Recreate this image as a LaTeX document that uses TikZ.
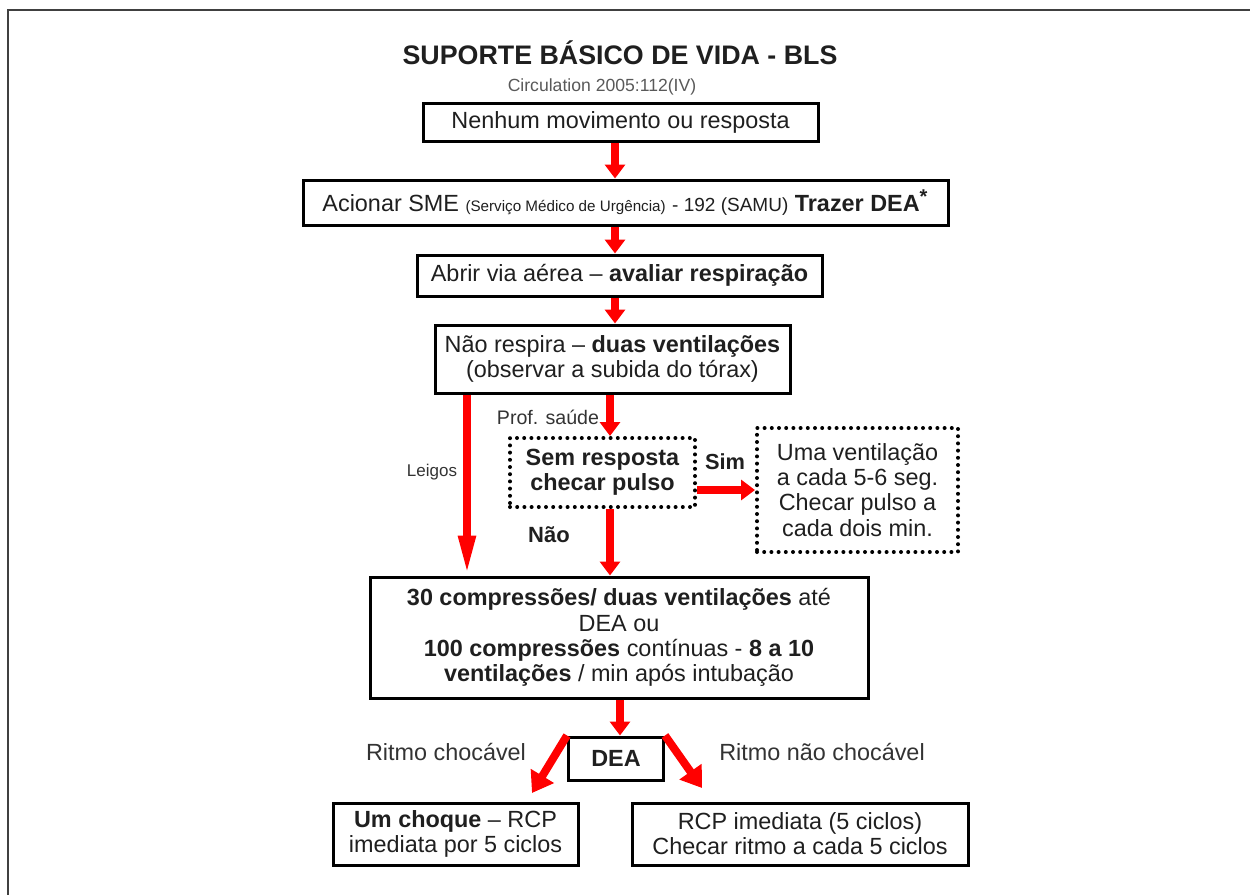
\documentclass[tikz,border=0pt]{standalone}
\usepackage{fontspec}
\setmainfont{Liberation Sans}
\usetikzlibrary{arrows.meta}

\begin{document}
\begin{tikzpicture}[x=0.5pt,y=-0.5pt]
	\tikzstyle{every node}+=[inner sep=0pt, text=black!88, font=\fontsize{11.7}{12.6}\selectfont]
	\tikzstyle{box}=[draw=black, line width=1.5pt, align=center]
	\tikzstyle{dotbox}=[draw=black, line width=2pt, dash pattern=on 0pt off 3.6pt, line cap=round, align=center]
	\tikzstyle{redarrow}=[draw=red, line width=4pt, -{Triangle[width=10pt,length=7pt]}]
	\tikzstyle{lbl}=[text=black!80]
	\useasboundingbox (0,0) rectangle (1250,895);
	\draw [black!75, line width=1pt] (8,895) -- (8,10) -- (1250,10);
	\node (title) at (620,53) {\fontsize{13.4}{15}\selectfont\bfseries SUPORTE BÁSICO DE VIDA - BLS};
	\node (cite) [text=black!65] at (602,87) {\fontsize{8.8}{10}\selectfont Circulation 2005:112(IV)};
	\node (b1) [box, minimum width=197.5pt, minimum height=19pt] at (620.5,122) {Nenhum movimento ou resposta};
	\node (b2) [box, minimum width=322.5pt, minimum height=22.5pt] at (625.5,202.5) {Acionar SME {\fontsize{7.6}{9}\selectfont(Serviço Médico de Urgência)} {\fontsize{9.5}{11}\selectfont - 192 (SAMU)} \textbf{Trazer DEA}\textsuperscript{\fontsize{10}{10}\selectfont\textbf{*}}};
	\node (b3) [box, minimum width=202.5pt, minimum height=20.5pt] at (619.5,275.5) {Abrir via aérea – \textbf{avaliar respiração}};
	\node (b4) [box, minimum width=177.5pt, minimum height=34pt] at (612.5,359) {Não respira – \textbf{duas ventilações}\\(observar a subida do tórax)};
	\node (b5) [dotbox, minimum width=92.5pt, minimum height=34.5pt] at (602.5,472.5) {\textbf{Sem resposta}\\\textbf{checar pulso}};
	\node (b6) [dotbox, minimum width=100.5pt, minimum height=62pt] at (857.5,490) {Uma ventilação\\a cada 5-6 seg.\\Checar pulso a\\cada dois min.};
	\node (b7) [box, minimum width=249pt, minimum height=60.5pt] at (619,637.5) {\textbf{30 compressões/ duas ventilações} até\\DEA ou\\\textbf{100 compressões} contínuas - \textbf{8 a 10}\\\textbf{ventilações} / min após intubação};
	\node (dea) [box, minimum width=47.5pt, minimum height=21.5pt] at (616,758.5) {\textbf{DEA}};
	\node (b8) [box, minimum width=122.5pt, minimum height=31pt] at (455.5,834) {\textbf{Um choque} – RCP\\imediata por 5 ciclos};
	\node (b9) [box, minimum width=168pt, minimum height=31pt] at (800,834) {RCP imediata (5 ciclos)\\Checar ritmo a cada 5 ciclos};
	\node (leigos) [lbl] at (432,472) {\fontsize{8.5}{10}\selectfont Leigos};
	\node (prof) [lbl] at (548,417) {\fontsize{9.8}{11}\selectfont Prof. saúde};
	\node (sim) at (725,462) {\fontsize{10.9}{12}\selectfont\bfseries Sim};
	\node (nao) at (549,535) {\fontsize{11}{12}\selectfont\bfseries Não};
	\node (choc) [lbl] at (446,752) {Ritmo chocável};
	\node (naochoc) [lbl] at (822,752) {Ritmo não chocável};
	\coordinate (tipL) at (532,793);
	\coordinate (tipR) at (702,788);
	\draw [redarrow] (b1.south -| 615,0) -- (b2.north -| 615,0);
	\draw [redarrow] (b2.south -| 615,0) -- (b3.north -| 615,0);
	\draw [redarrow] (b3.south -| 615,0) -- (b4.north -| 615,0);
	\draw [redarrow, -{Triangle[width=8pt,length=20pt]}] (b4.south -| 467,0) -- (b7.north -| 467,0);
	\draw [redarrow] (b4.south -| 610,0) -- (b5.north -| 610,0);
	\draw [redarrow] (b5.south -| 610,0) -- (b7.north -| 610,0);
	\draw [redarrow] (b5.east |- 0,490) -- (b6.west |- 0,490);
	\draw [redarrow] (b7.south -| 620,0) -- (dea.north -| 620,0);
	\draw [redarrow, -{Triangle[width=13pt,length=10pt]}] (dea.north west) -- (tipL);
	\draw [redarrow, -{Triangle[width=13pt,length=10pt]}] (dea.north east) -- (tipR);
\end{tikzpicture}
\end{document}
